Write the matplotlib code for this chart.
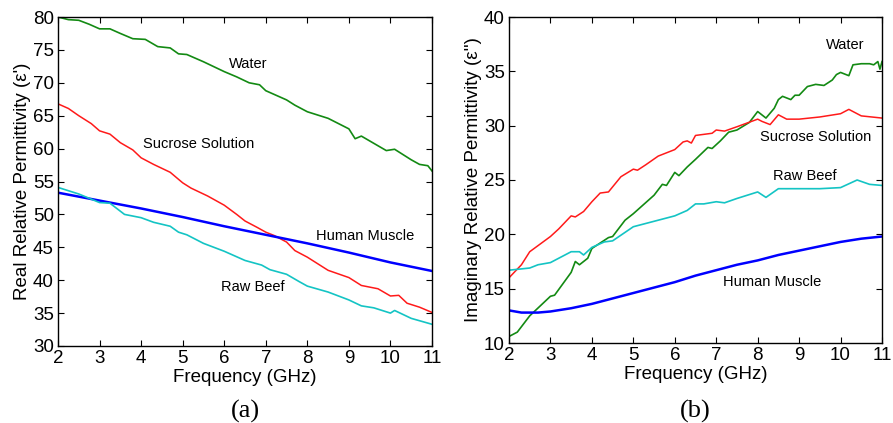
import matplotlib.pyplot as plt

plt.rcParams["font.family"] = ["Liberation Sans", "DejaVu Sans"]

# (a) real part
water_re_f = [2, 2.25, 2.5, 2.75, 3, 3.25, 3.5, 3.8, 4.1, 4.4, 4.7, 4.9, 5.1, 5.5, 6, 6.3,
              6.6, 6.85, 7, 7.5, 7.7, 8, 8.5, 9, 9.15, 9.3, 9.6, 9.9, 10.1, 10.5, 10.7, 10.9, 11]
water_re = [80.0, 79.6, 79.5, 78.9, 78.2, 78.2, 77.5, 76.7, 76.6, 75.5, 75.3, 74.4, 74.3, 73.2,
            71.7, 70.9, 70.0, 69.7, 68.8, 67.4, 66.6, 65.6, 64.6, 63.0, 61.5, 61.9, 60.8, 59.7,
            59.9, 58.3, 57.6, 57.4, 56.6]

sucrose_re_f = [2, 2.25, 2.5, 2.8, 3, 3.25, 3.5, 3.8, 4, 4.3, 4.7, 5, 5.2, 5.6, 6, 6.3, 6.5,
                6.8, 7, 7.2, 7.5, 7.7, 8, 8.5, 9, 9.3, 9.7, 10, 10.2, 10.4, 10.7, 11]
sucrose_re = [66.8, 66.1, 65.0, 63.8, 62.7, 62.2, 60.9, 59.8, 58.6, 57.6, 56.4, 54.8, 54.0,
              52.8, 51.4, 50.0, 49.0, 48.0, 47.3, 46.8, 45.8, 44.5, 43.5, 41.5, 40.4, 39.2,
              38.7, 37.6, 37.7, 36.5, 35.9, 35.1]

muscle_re_f = [2, 3, 4, 5, 6, 7, 8, 9, 10, 11]
muscle_re = [53.3, 52.1, 50.9, 49.6, 48.2, 46.9, 45.6, 44.2, 42.7, 41.4]

beef_re_f = [2, 2.5, 3, 3.25, 3.6, 4, 4.3, 4.7, 4.9, 5.1, 5.5, 6, 6.5, 6.9, 7.1, 7.5, 7.8,
             8, 8.5, 9, 9.3, 9.6, 10, 10.1, 10.5, 11]
beef_re = [54.1, 53.1, 51.8, 51.7, 50.0, 49.5, 48.8, 48.2, 47.3, 46.9, 45.6, 44.4, 43.0,
           42.3, 41.6, 40.9, 39.8, 39.1, 38.2, 37.0, 36.1, 35.8, 35.0, 35.4, 34.2, 33.3]

# (b) imaginary part
water_im_f = [2, 2.2, 2.5, 3, 3.1, 3.5, 3.6, 3.7, 3.9, 4, 4.4, 4.5, 4.8, 5, 5.5, 5.7, 5.8,
              6, 6.1, 6.3, 6.5, 6.8, 6.9, 7.1, 7.3, 7.5, 7.8, 8, 8.2, 8.4, 8.5, 8.6, 8.8,
              8.9, 9, 9.2, 9.4, 9.6, 9.8, 9.9, 10, 10.2, 10.3, 10.5, 10.7, 10.8, 10.9,
              10.95, 11]
water_im = [10.6, 11.0, 12.5, 14.3, 14.4, 16.5, 17.5, 17.2, 17.8, 18.7, 19.7, 19.8, 21.3,
            21.9, 23.6, 24.6, 24.5, 25.7, 25.4, 26.2, 26.9, 28.0, 27.9, 28.6, 29.4, 29.6,
            30.3, 31.3, 30.7, 31.6, 32.4, 32.7, 32.4, 32.8, 32.8, 33.6, 33.8, 33.7, 34.2,
            34.7, 34.9, 34.6, 35.6, 35.7, 35.7, 35.6, 35.9, 35.2, 35.9]

sucrose_im_f = [2, 2.3, 2.5, 3, 3.2, 3.5, 3.6, 3.8, 4, 4.2, 4.4, 4.7, 5, 5.1, 5.3, 5.6, 6,
                6.2, 6.3, 6.4, 6.5, 6.9, 7, 7.2, 7.5, 8, 8.1, 8.3, 8.5, 8.7, 9, 9.5, 10,
                10.2, 10.5, 11]
sucrose_im = [16.0, 17.2, 18.4, 19.8, 20.5, 21.7, 21.6, 22.1, 23.0, 23.8, 23.9, 25.3, 26.0,
              25.9, 26.4, 27.2, 27.8, 28.5, 28.6, 28.4, 29.1, 29.3, 29.6, 29.5, 29.9, 30.6,
              30.4, 30.1, 31.0, 30.6, 30.6, 30.8, 31.1, 31.5, 30.9, 30.7]

beef_im_f = [2, 2.5, 2.7, 3, 3.3, 3.5, 3.7, 3.8, 4, 4.3, 4.5, 5, 5.5, 6, 6.3, 6.5, 6.7, 7,
             7.2, 7.5, 8, 8.2, 8.5, 9, 9.5, 10, 10.4, 10.7, 11]
beef_im = [16.7, 16.9, 17.2, 17.4, 18.0, 18.4, 18.4, 18.1, 18.8, 19.3, 19.4, 20.7, 21.2,
           21.7, 22.2, 22.8, 22.8, 23.0, 22.9, 23.3, 23.9, 23.4, 24.2, 24.2, 24.2, 24.3,
           25.0, 24.6, 24.5]

muscle_im_f = [2, 2.3, 2.7, 3, 3.5, 4, 4.5, 5, 5.5, 6, 6.5, 7, 7.5, 8, 8.5, 9, 9.5, 10,
               10.5, 11]
muscle_im = [13.0, 12.8, 12.8, 12.9, 13.2, 13.6, 14.1, 14.6, 15.1, 15.6, 16.2, 16.7, 17.2,
             17.6, 18.1, 18.5, 18.9, 19.3, 19.6, 19.8]

GREEN = "#138a13"
RED = "#ff1a1a"
BLUE = "#0000ff"
CYAN = "#14c4c4"


def estilo_eixo(ax, ylim, yticks):
    ax.set_xlim(2, 11)
    ax.set_ylim(*ylim)
    ax.set_xticks(range(2, 12))
    ax.set_yticks(yticks)
    ax.tick_params(direction="in", top=True, right=True, labelsize=13.5, length=4, pad=3)
    for s in ax.spines.values():
        s.set_linewidth(1.0)
    ax.set_xlabel("Frequency (GHz)", fontsize=13.5, labelpad=1)


fig = plt.figure(figsize=(8.93, 4.23), dpi=100)
ax1 = fig.add_axes([58 / 893, 1 - 346 / 423, 374 / 893, 329 / 423])
ax2 = fig.add_axes([509 / 893, 1 - 343 / 423, 373 / 893, 326 / 423])

ax1.plot(water_re_f, water_re, color=GREEN, lw=1.2)
ax1.plot(sucrose_re_f, sucrose_re, color=RED, lw=1.1)
ax1.plot(muscle_re_f, muscle_re, color=BLUE, lw=1.8)
ax1.plot(beef_re_f, beef_re, color=CYAN, lw=1.2)
estilo_eixo(ax1, (30, 80), range(30, 81, 5))
ax1.set_ylabel("Real Relative Permittivity (\u03b5')", fontsize=13.5, labelpad=1)
ax1.text(6.57, 72.8, "Water", fontsize=10.5, ha="center", va="center")
ax1.text(5.38, 60.7, "Sucrose Solution", fontsize=10.5, ha="center", va="center")
ax1.text(9.39, 46.7, "Human Muscle", fontsize=10.5, ha="center", va="center")
ax1.text(6.68, 39.0, "Raw Beef", fontsize=10.5, ha="center", va="center")

ax2.plot(water_im_f, water_im, color=GREEN, lw=1.2)
ax2.plot(sucrose_im_f, sucrose_im, color=RED, lw=1.1)
ax2.plot(muscle_im_f, muscle_im, color=BLUE, lw=1.8)
ax2.plot(beef_im_f, beef_im, color=CYAN, lw=1.2)
estilo_eixo(ax2, (10, 40), range(10, 41, 5))
ax2.set_ylabel("Imaginary Relative Permittivity (\u03b5'')", fontsize=13.5, labelpad=1)
ax2.text(10.10, 37.4, "Water", fontsize=10.5, ha="center", va="center")
ax2.text(9.39, 29.0, "Sucrose Solution", fontsize=10.5, ha="center", va="center")
ax2.text(9.13, 25.4, "Raw Beef", fontsize=10.5, ha="center", va="center")
ax2.text(8.36, 15.6, "Human Muscle", fontsize=10.5, ha="center", va="center")

fig.text(0.5 * (58 + 432) / 893, 1 - 411 / 423, "(a)", family="Liberation Serif",
         fontsize=19, ha="center", va="center")
fig.text(0.5 * (509 + 882) / 893, 1 - 411 / 423, "(b)", family="Liberation Serif",
         fontsize=19, ha="center", va="center")

fig.savefig("out.png", dpi=100)
plt.close(fig)
